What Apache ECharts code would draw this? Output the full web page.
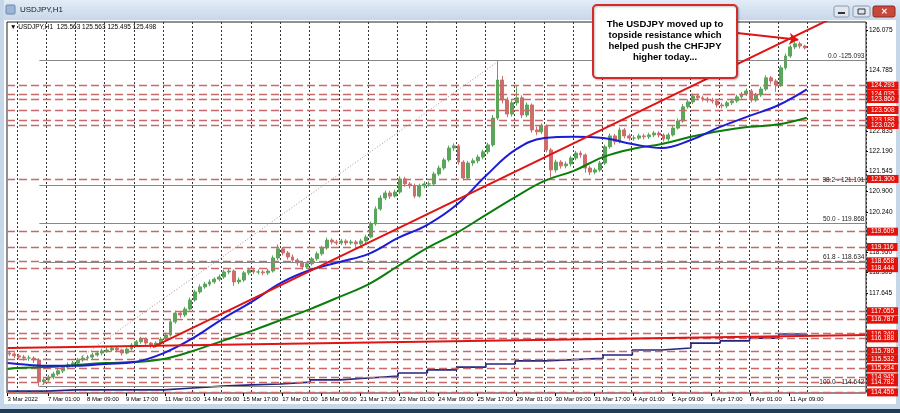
<!DOCTYPE html>
<html><head><meta charset="utf-8">
<script src="https://cdn.jsdelivr.net/npm/echarts@6/dist/echarts.min.js"></script>
<style>html,body{margin:0;padding:0;background:#fff;}#c{width:900px;height:413px;}</style>
</head><body><div id="c"></div>
<script>
// ---------- DATA (4-hour candles) ----------
const opens=[115.72,115.69,115.63,115.59,115.56,115.56,115.50,114.80,114.86,114.95,115.05,115.15,115.27,115.34,115.40,115.50,115.56,115.59,115.66,115.72,115.79,115.82,115.88,115.82,115.72,115.85,115.98,116.08,116.17,116.04,115.95,116.04,116.17,116.30,116.72,117.00,116.94,117.13,117.42,117.68,117.84,117.93,118.00,118.09,118.16,118.32,118.35,118.00,118.06,118.29,118.38,118.32,118.32,118.29,118.35,118.77,119.06,118.93,118.80,118.70,118.61,118.48,118.58,118.74,118.90,119.09,119.34,119.28,119.25,119.31,119.25,119.28,119.22,119.31,119.44,119.86,120.34,120.69,120.85,120.75,120.88,121.30,121.14,121.08,120.75,121.08,121.14,121.14,121.46,121.65,121.91,122.29,122.36,121.84,121.33,121.81,121.88,122.00,122.17,122.39,123.25,124.47,123.83,123.38,123.74,123.90,123.35,123.67,122.87,122.81,123.00,122.23,121.59,121.84,121.72,121.78,121.97,122.13,122.07,121.65,121.52,121.59,121.81,122.33,122.68,122.49,122.87,122.68,122.61,122.61,122.68,122.65,122.71,122.77,122.71,122.58,122.71,122.93,123.16,123.61,123.77,123.96,123.90,123.86,123.83,123.80,123.67,123.64,123.74,123.80,123.93,124.02,124.12,123.83,123.99,124.18,124.54,124.44,124.31,124.86,125.24,125.53,125.63,125.56];
const closes=[115.69,115.63,115.59,115.56,115.56,115.50,114.80,114.86,114.95,115.05,115.15,115.27,115.34,115.40,115.50,115.56,115.59,115.66,115.72,115.79,115.82,115.88,115.82,115.72,115.85,115.98,116.08,116.17,116.04,115.95,116.04,116.17,116.30,116.72,117.00,116.94,117.13,117.42,117.68,117.84,117.93,118.00,118.09,118.16,118.32,118.35,118.00,118.06,118.29,118.38,118.32,118.32,118.29,118.35,118.77,119.06,118.93,118.80,118.70,118.61,118.48,118.58,118.74,118.90,119.09,119.34,119.28,119.25,119.31,119.25,119.28,119.22,119.31,119.44,119.86,120.34,120.69,120.85,120.75,120.88,121.30,121.14,121.08,120.75,121.08,121.14,121.14,121.46,121.65,121.91,122.29,122.36,121.84,121.33,121.81,121.88,122.00,122.17,122.39,123.25,124.47,123.83,123.38,123.74,123.90,123.35,123.67,122.87,122.81,123.00,122.23,121.59,121.84,121.72,121.78,121.97,122.13,122.07,121.65,121.52,121.59,121.81,122.33,122.68,122.49,122.87,122.68,122.61,122.61,122.68,122.65,122.71,122.77,122.71,122.58,122.71,122.93,123.16,123.61,123.77,123.96,123.90,123.86,123.83,123.80,123.67,123.64,123.74,123.80,123.93,124.02,124.12,123.83,123.99,124.18,124.54,124.44,124.31,124.86,125.24,125.53,125.63,125.56,125.50];
const lows=[115.62,115.56,115.52,115.48,115.47,115.40,114.65,114.70,114.80,114.88,114.99,115.08,115.20,115.27,115.33,115.44,115.48,115.53,115.60,115.65,115.73,115.76,115.75,115.64,115.68,115.80,115.92,116.02,115.98,115.87,115.90,115.99,116.12,116.25,116.66,116.85,116.88,117.08,117.36,117.62,117.78,117.86,117.94,118.02,118.10,118.25,117.87,117.93,118.00,118.22,118.25,118.24,118.21,118.22,118.30,118.70,118.85,118.72,118.62,118.52,118.40,118.42,118.52,118.68,118.84,119.03,119.20,119.18,119.18,119.17,119.19,119.13,119.16,119.25,119.40,119.80,120.28,120.62,120.66,120.70,120.82,121.05,120.99,120.68,120.70,121.00,121.05,121.08,121.40,121.58,121.85,122.20,121.76,121.25,121.28,121.72,121.80,121.93,122.10,122.33,123.18,123.72,123.28,123.30,123.65,123.25,123.28,122.78,122.70,122.74,122.15,121.36,121.50,121.63,121.64,121.70,121.90,121.98,121.50,121.42,121.45,121.53,121.75,122.27,122.40,122.44,122.60,122.53,122.52,122.55,122.57,122.58,122.64,122.63,122.50,122.52,122.66,122.88,123.10,123.55,123.70,123.82,123.78,123.75,123.72,123.59,123.56,123.58,123.67,123.74,123.87,123.96,123.75,123.77,123.93,124.12,124.35,124.09,124.25,124.80,125.18,125.46,125.48,125.45];
const highs=[115.80,115.75,115.70,115.66,115.64,115.62,115.55,114.95,115.02,115.12,115.22,115.33,115.42,115.47,115.56,115.64,115.66,115.73,115.79,115.86,115.90,115.95,115.94,115.86,115.90,116.04,116.14,116.24,116.22,116.08,116.10,116.23,116.38,116.80,117.08,117.06,117.20,117.50,117.75,117.92,118.00,118.08,118.15,118.24,118.39,118.44,118.40,118.14,118.35,118.45,118.44,118.40,118.38,118.42,118.85,119.20,119.12,118.99,118.88,118.76,118.67,118.65,118.80,118.97,119.16,119.42,119.40,119.35,119.38,119.37,119.35,119.34,119.38,119.51,119.93,120.42,120.78,120.93,120.92,120.96,121.38,121.37,121.20,121.15,121.15,121.22,121.22,121.53,121.73,121.98,122.37,122.44,122.42,121.90,121.88,121.96,122.08,122.24,122.46,123.35,125.09,124.60,123.92,123.82,124.27,123.98,123.75,123.72,122.98,123.08,123.05,122.30,121.92,121.90,121.86,122.04,122.20,122.20,122.12,121.72,121.66,121.88,122.40,122.76,122.74,122.95,122.93,122.75,122.70,122.75,122.75,122.78,122.84,122.83,122.76,122.78,123.00,123.24,123.70,123.85,124.04,124.03,123.97,123.93,123.90,123.86,123.74,123.80,123.87,124.00,124.09,124.20,124.18,124.06,124.26,124.62,124.60,124.50,124.94,125.32,125.60,125.76,125.70,125.60];

// moving averages, sampled at day starts (hourly slot index)
const maSlots=[0,8,32,56,80,104,128,152,176,200,224,248,272,296,320,344,368,392,416,440,464,488,512,536,560,584,608,632,655];
const ma100=[115.40,115.37,115.31,115.31,115.37,115.43,115.72,116.20,116.81,117.36,117.97,118.38,118.64,118.90,119.41,119.83,120.47,121.40,122.23,122.61,122.65,122.61,122.42,122.29,122.55,122.97,123.32,123.67,124.17];
const ma200=[115.21,115.24,115.27,115.34,115.40,115.43,115.53,115.79,116.11,116.43,116.78,117.13,117.52,117.93,118.51,119.09,119.57,120.15,120.72,121.24,121.56,122.00,122.26,122.42,122.65,122.84,122.97,123.05,123.26];
const h4ma=[114.50,114.50,114.54,114.54,114.54,114.54,114.60,114.66,114.70,114.73,114.79,114.86,114.92,114.98,115.08,115.18,115.27,115.37,115.47,115.51,115.55,115.66,115.82,115.88,116.04,116.11,116.20,116.33,116.33];

// support / resistance levels (red tags)
const levels=[124.293,124.035,123.860,123.508,123.188,123.026,121.300,119.609,119.116,118.658,118.444,117.055,116.787,116.340,116.188,115.786,115.532,115.234,114.945,114.782,114.456];
// Fibonacci retracement
const fibValues=[125.093,121.101,119.868,118.634,114.642];
const fibTexts=['0.0 -125.093','38.2 - 121.101','50.0 - 119.868','61.8 - 118.634','100.0 - 114.642'];
const fibStartSlot=26, fibHighSlot=403;
// trend lines [slot, price]
const trendUp=[[119,115.91],[703,126.97]];
const trendFlat=[[0,115.88],[703,116.30]];
// axis ticks
const priceTicks=[126.075,124.785,122.835,122.190,121.545,120.900,120.240,118.950,118.305,117.645];
const timeLabels=['3 Mar 2022','7 Mar 01:00','8 Mar 09:00','9 Mar 17:00','11 Mar 01:00','14 Mar 09:00','15 Mar 17:00','17 Mar 01:00','18 Mar 09:00','21 Mar 17:00','23 Mar 01:00','24 Mar 09:00','25 Mar 17:00','29 Mar 01:00','30 Mar 09:00','31 Mar 17:00','4 Apr 01:00','5 Apr 09:00','6 Apr 17:00','8 Apr 01:00','11 Apr 09:00'];
const timeSlots=[0,33,65,97,129,161,193,225,257,289,321,353,385,417,449,481,513,545,577,609,641];
const lastPrice=125.498;

// ---------- BUILD ----------
const NH=704, N4=176;
const hourCats=Array.from({length:NH},(_,i)=>String(i));
const fourCats=Array.from({length:N4},(_,i)=>String(i));
const labelMap={}; timeSlots.forEach((s,k)=>labelMap[s]=timeLabels[k]);
const labelSet=new Set(timeSlots);
const daySet=new Set(); for(let k=0;k<28;k++) daySet.add(8+24*k);
const FONT='"Liberation Sans", Arial, sans-serif';
const candles=opens.map((o,j)=>[o,closes[j],lows[j],highs[j]]);

const chart=echarts.init(document.getElementById('c'),null,{renderer:'canvas'});
chart.setOption({
  animation:false,
  backgroundColor:'#ffffff',
  textStyle:{fontFamily:FONT},
  grid:{left:7,right:34,top:22,bottom:20,show:true,backgroundColor:'#fff',borderColor:'#222',borderWidth:1},
  xAxis:[{
    type:'category',data:hourCats,boundaryGap:true,
    axisLine:{show:false},
    axisTick:{show:true,interval:(i)=>labelSet.has(i),alignWithLabel:true,length:3,lineStyle:{color:'#000'}},
    axisLabel:{interval:(i)=>labelSet.has(i),formatter:(v)=>labelMap[+v]||'',fontSize:6,color:'#000',align:'left',margin:3,fontFamily:FONT},
    splitLine:{show:true,interval:(i)=>daySet.has(i),lineStyle:{color:'#333',type:[2,2],width:1}}
  },{
    type:'category',data:fourCats,boundaryGap:true,show:false
  }],
  yAxis:{
    type:'value',position:'right',min:114.44,max:126.33,scale:true,
    axisLine:{show:false},splitLine:{show:false},
    axisTick:{show:true,customValues:priceTicks,length:2,lineStyle:{color:'#000'}},
    axisLabel:{customValues:priceTicks,formatter:(v)=>v.toFixed(3),fontSize:6.5,color:'#000',margin:3,fontFamily:FONT}
  },
  series:[
    {name:'levels',type:'line',xAxisIndex:0,data:[],z:1,
      markLine:{silent:true,symbol:'none',animation:false,
        lineStyle:{color:'#c96a6a',type:[8,4],width:1.3},
        label:{show:true,position:'end',distance:1,color:'#fff',backgroundColor:'#e3120b',padding:[1,4,0,4],fontSize:6.5,fontFamily:FONT},
        data:levels.map(v=>({yAxis:v,label:{formatter:v.toFixed(3)}}))}},
    {name:'last',type:'line',xAxisIndex:0,data:[],z:1,
      markLine:{silent:true,symbol:'none',animation:false,lineStyle:{opacity:0},
        label:{show:true,position:'end',distance:1,color:'#fff',backgroundColor:'#000',padding:[1,4,0,4],fontSize:6.5,fontFamily:FONT},
        data:[{yAxis:lastPrice,label:{formatter:lastPrice.toFixed(3)}}]}},
    {name:'fib',type:'line',xAxisIndex:0,data:[],z:1,
      markLine:{silent:true,symbol:'none',animation:false,
        lineStyle:{color:'#888',type:'solid',width:1},
        label:{show:true,position:'insideEndTop',distance:1,color:'#222',fontSize:6.5,fontFamily:FONT},
        data:fibValues.map((v,k)=>[{coord:[fibStartSlot,v],label:{formatter:fibTexts[k]}},{coord:[NH-1,v]}]).concat([
          [{coord:[fibStartSlot,fibValues[4]],lineStyle:{color:'#b48a8a',type:[1,2]},label:{show:false}},{coord:[fibHighSlot,fibValues[0]]}]
        ])}},
    {name:'H4 MA',type:'line',xAxisIndex:0,step:'end',symbol:'none',z:3,
      data:maSlots.map((s,k)=>[s,h4ma[k]]),lineStyle:{color:'#25257f',width:1.6},
      markLine:{silent:true,symbol:'none',animation:false,lineStyle:{opacity:0},
        label:{show:true,position:'insideEndTop',distance:1,color:'#2a2ad0',fontSize:6.5,fontFamily:FONT},
        data:[{yAxis:116.337,label:{formatter:'H4 MA:200:0:0:-116.337'}}]}},
    {name:'candles',type:'candlestick',xAxisIndex:1,data:candles,barWidth:3.4,z:4,
      itemStyle:{color:'#5aa65a',color0:'#cf6d6d',borderColor:'#5aa65a',borderColor0:'#cf6d6d',borderWidth:1}},
    {name:'MA200',type:'line',xAxisIndex:0,smooth:0.4,symbol:'none',z:5,
      data:maSlots.map((s,k)=>[s,ma200[k]]),lineStyle:{color:'#0b7d0b',width:2},
      markLine:{silent:true,symbol:'none',animation:false,lineStyle:{opacity:0},
        label:{show:true,position:'insideEndTop',distance:1,color:'#0b7d0b',fontSize:6.5,fontFamily:FONT},
        data:[{yAxis:123.256,label:{formatter:'H1 MA:200:0:0:-123.256'}}]}},
    {name:'MA100',type:'line',xAxisIndex:0,smooth:0.4,symbol:'none',z:5,
      data:maSlots.map((s,k)=>[s,ma100[k]]),lineStyle:{color:'#1c1cd6',width:2},
      markLine:{silent:true,symbol:'none',animation:false,lineStyle:{opacity:0},
        label:{show:true,position:'insideEndTop',distance:1,color:'#1c1cd6',fontSize:6.5,fontFamily:FONT},
        data:[{yAxis:124.168,label:{formatter:'H1 MA:100:0:0:-124.168'}}]}},
    {name:'flat',type:'line',xAxisIndex:0,symbol:'none',z:6,data:trendFlat,lineStyle:{color:'#e01414',width:2}},
    {name:'trend',type:'line',xAxisIndex:0,symbol:'none',z:6,data:trendUp,lineStyle:{color:'#e01414',width:2}},
    {name:'arrow',type:'line',xAxisIndex:0,data:[],z:7,
      markLine:{silent:true,symbol:['none','arrow'],symbolSize:9,animation:false,
        lineStyle:{color:'#e01414',width:2,type:'solid'},label:{show:false},
        data:[[{x:737,y:33},{coord:[648,125.76]}]]}}
  ],
  graphic:[
    {type:'rect',z:0,shape:{x:0,y:0,width:900,height:20},style:{fill:new echarts.graphic.LinearGradient(0,0,0,1,[{offset:0,color:'#e3ecf7'},{offset:1,color:'#c7d7ea'}])}},
    {type:'rect',z:0,shape:{x:0,y:0,width:4,height:413},style:{fill:'#c7d7ea'}},
    {type:'rect',z:0,shape:{x:896,y:20,width:4,height:393},style:{fill:'#c7d7ea'}},
    {type:'rect',z:0,shape:{x:0,y:404,width:900,height:9},style:{fill:'#c7d7ea'}},
    {type:'rect',z:0,shape:{x:0,y:409,width:900,height:4},style:{fill:'#1f3d57'}},
    {type:'rect',z:1,shape:{x:6,y:5,width:9,height:9,r:1},style:{fill:'#9ab6d8',stroke:'#6a86aa',lineWidth:1}},
    {type:'text',z:1,style:{x:20,y:10,text:'USDJPY,H1',fill:'#1a1a1a',font:'8px '+FONT,verticalAlign:'middle'}},
    {type:'rect',z:1,shape:{x:834,y:6,width:15,height:11,r:2},style:{fill:'#dfe6ef',stroke:'#8a9bb0',lineWidth:1}},
    {type:'rect',z:1,shape:{x:853,y:6,width:17,height:11,r:2},style:{fill:'#dfe6ef',stroke:'#8a9bb0',lineWidth:1}},
    {type:'rect',z:1,shape:{x:873,y:6,width:22,height:11,r:2},style:{fill:'#c9483c',stroke:'#8c2a22',lineWidth:1}},
    {type:'text',z:2,style:{x:884,y:11.5,text:'✕',fill:'#fff',font:'bold 8px '+FONT,align:'center',verticalAlign:'middle'}},
    {type:'rect',z:2,shape:{x:838,y:12,width:7,height:2},style:{fill:'#333'}},
    {type:'rect',z:2,shape:{x:858,y:9,width:7,height:5},style:{fill:'none',stroke:'#333',lineWidth:1}},
    {type:'text',z:20,style:{x:10,y:27,text:'▼ USDJPY,H1  125.563 125.563 125.495 125.498',fill:'#000',font:'6.5px '+FONT,verticalAlign:'middle'}},
    {type:'rect',z:30,shape:{x:593,y:5,width:144,height:73,r:4},style:{fill:'#fff',stroke:'#d42a2a',lineWidth:2,shadowBlur:2,shadowColor:'rgba(0,0,0,0.25)',shadowOffsetX:1,shadowOffsetY:1}},
    {type:'text',z:31,style:{x:665,y:41,text:'The USDJPY moved up to\ntopside resistance which\nhelped push the CHFJPY\nhigher today...',fill:'#000',font:'bold 9.5px '+FONT,align:'center',verticalAlign:'middle',lineHeight:10.8}}
  ]
});
</script></body></html>
